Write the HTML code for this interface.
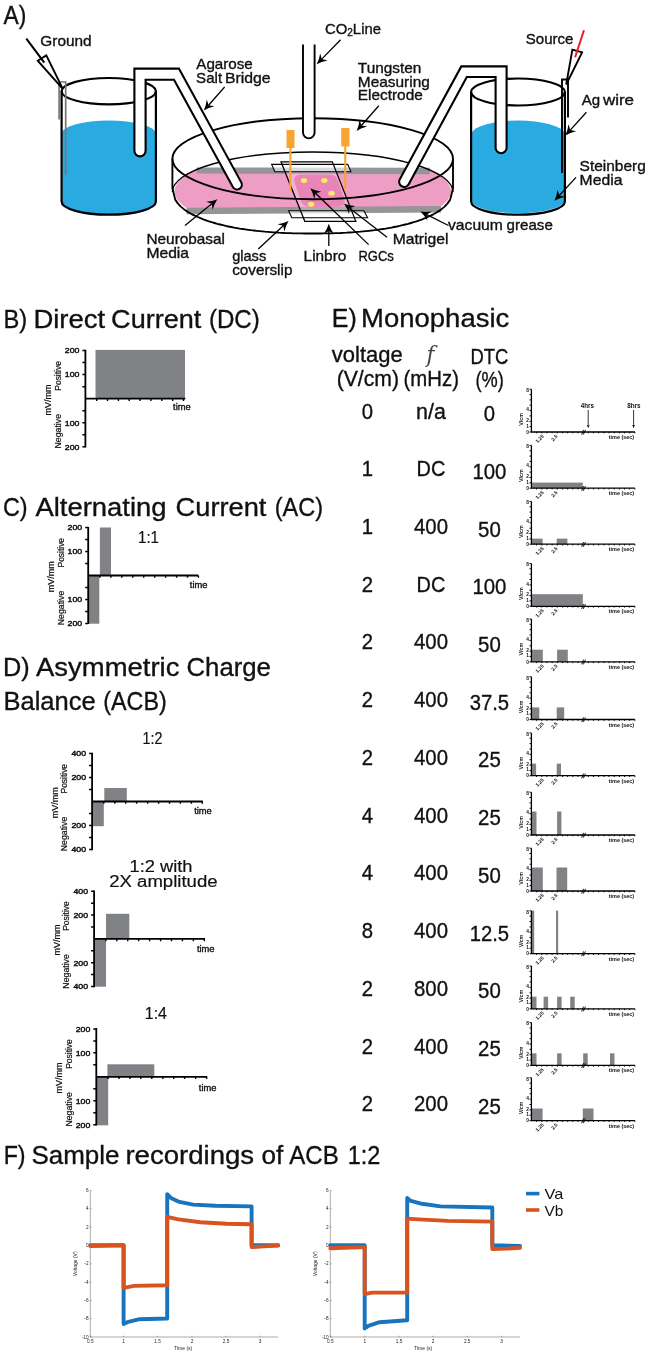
<!DOCTYPE html>
<html><head><meta charset="utf-8"><title>Figure</title>
<style>
html,body{margin:0;padding:0;background:#fff;}
body{width:649px;height:1356px;overflow:hidden;}
svg{display:block;font-family:'Liberation Sans', sans-serif;}
</style></head><body>
<svg width="649" height="1356" viewBox="0 0 649 1356">
<rect width="649" height="1356" fill="#fff"/>
<!-- Section A -->
<g id="secA">
<text x="3.5" y="23.8" font-size="26.4" textLength="22.8" lengthAdjust="spacingAndGlyphs" fill="#111" stroke="#111" stroke-width="0.35">A)</text>
<path d="M62.2,133 A46.5,12.5 0 0 1 155.3,133 L155.3,201.5 A46.5,12.6 0 0 1 62.2,201.5 Z" fill="#29ABE2"/>
<ellipse cx="108.75" cy="91.2" rx="47.15" ry="13.2" fill="none" stroke="#000" stroke-width="2.2"/>
<path d="M61.6,91.2 L61.6,201.5 A47.15,13.2 0 0 0 155.9,201.5 L155.9,91.2" fill="none" stroke="#000" stroke-width="2.2"/>
<path d="M59.1,119.6 L59.1,82 L65.7,82 L65.7,175" fill="none" stroke="#777" stroke-width="1.7"/>
<path d="M37.7,60.7 L46.3,55.4 L62.8,88.8 Z" fill="#fff" stroke="#000" stroke-width="1.9" stroke-linejoin="miter"/>
<path d="M26.3,38.6 L44.3,62.6" stroke="#000" stroke-width="2" fill="none"/>
<path d="M471.7,133.3 A46.5,14 0 0 1 564.4,133.3 L564.4,201.5 A46.5,12.6 0 0 1 471.7,201.5 Z" fill="#29ABE2"/>
<ellipse cx="518" cy="92" rx="46.9" ry="13.5" fill="none" stroke="#000" stroke-width="2.2"/>
<path d="M471.1,92 L471.1,201.5 A46.9,13.2 0 0 0 564.9,201.5 L564.9,92" fill="none" stroke="#000" stroke-width="2.2"/>
<path d="M562,172.9 L562,79.5 L568,79.5 L568,117.6" fill="none" stroke="#000" stroke-width="1.9"/>
<path d="M572.4,49.7 L582.1,52.4 L566.2,84.5 Z" fill="#fff" stroke="#000" stroke-width="1.9"/>
<path d="M584,30.2 L575.1,57.2" stroke="#ED1C24" stroke-width="2" fill="none"/>
<defs><clipPath id="pinkclip"><path d="M160,170 L470,170 L470,209 L160,212 Z"/></clipPath></defs>
<ellipse cx="312.7" cy="191.5" rx="138.3" ry="40.2" fill="#EE9EC5" clip-path="url(#pinkclip)"/>
<path d="M196.6,167.4 L429.8,167.8 L429.8,174.2 L196.6,173.6 Z" fill="#939598"/>
<path d="M186.6,207.8 L441,206 L441,212.4 L186.6,214.2 Z" fill="#939598"/>
<path d="M281,161.8 L332.3,161.8 L355.8,221.3 L304.8,221.3 Z" fill="#fff" fill-opacity="0.22"/>
<path d="M302,174.6 L329,174.6 Q336,174.6 338.2,181 L344.2,198.5 Q346.5,206.6 338,206.8 L310,207 Q303,207 300.6,200.5 L294.8,183.5 Q292,174.6 302,174.6 Z" fill="#E884B7"/>
<ellipse cx="304" cy="180.5" rx="3.2" ry="2.5" fill="#F6EB61"/>
<ellipse cx="324.3" cy="180.5" rx="3.2" ry="2.5" fill="#F6EB61"/>
<ellipse cx="331.6" cy="193.2" rx="3.2" ry="2.5" fill="#F6EB61"/>
<ellipse cx="311.1" cy="204.2" rx="3.2" ry="2.5" fill="#F6EB61"/>
<path d="M271.6,164.4 L347.7,164.4 L350.9,171.7 L274.9,171.7 Z" fill="#fff" fill-opacity="0.55" stroke="#000" stroke-width="1.1"/>
<path d="M288.6,210.8 L363.9,210.8 L367.6,217.8 L291.8,217.8 Z" fill="#fff" fill-opacity="0.55" stroke="#000" stroke-width="1.1"/>
<path d="M281,161.8 L332.3,161.8 L355.8,221.3 L304.8,221.3 Z" fill="none" stroke="#000" stroke-width="1.25"/>
<path d="M172.39999999999998,192 A140.3,40 0 0 1 453.0,192" fill="none" stroke="#000" stroke-width="1.4"/>
<path d="M172.39999999999998,158.7 L172.4,188.3 L175.2,199.6 L178.0,203.6 L180.8,206.6 L183.6,208.9 L186.4,210.9 L189.2,212.7 L192.0,214.3 L194.8,215.7 L197.7,217.0 L200.5,218.2 L203.3,219.3 L206.1,220.3 L208.9,221.3 L211.7,222.2 L214.5,223.0 L217.3,223.8 L220.1,224.5 L222.9,225.2 L225.7,225.9 L228.5,226.5 L231.3,227.0 L234.1,227.6 L236.9,228.1 L239.7,228.6 L242.5,229.0 L245.4,229.4 L248.2,229.8 L251.0,230.2 L253.8,230.5 L256.6,230.8 L259.4,231.1 L262.2,231.4 L265.0,231.7 L267.8,231.9 L270.6,232.1 L273.4,232.3 L276.2,232.5 L279.0,232.7 L281.8,232.8 L284.6,233.0 L287.4,233.1 L290.3,233.2 L293.1,233.3 L295.9,233.3 L298.7,233.4 L301.5,233.4 L304.3,233.5 L307.1,233.5 L309.9,233.5 L312.7,233.5 L315.5,233.5 L318.3,233.5 L321.1,233.5 L323.9,233.4 L326.7,233.4 L329.5,233.3 L332.3,233.3 L335.1,233.2 L338.0,233.1 L340.8,233.0 L343.6,232.8 L346.4,232.7 L349.2,232.5 L352.0,232.3 L354.8,232.1 L357.6,231.9 L360.4,231.7 L363.2,231.4 L366.0,231.1 L368.8,230.8 L371.6,230.5 L374.4,230.2 L377.2,229.8 L380.0,229.4 L382.9,229.0 L385.7,228.6 L388.5,228.1 L391.3,227.6 L394.1,227.0 L396.9,226.5 L399.7,225.9 L402.5,225.2 L405.3,224.5 L408.1,223.8 L410.9,223.0 L413.7,222.2 L416.5,221.3 L419.3,220.3 L422.1,219.3 L424.9,218.2 L427.7,217.0 L430.6,215.7 L433.4,214.3 L436.2,212.7 L439.0,210.9 L441.8,208.9 L444.6,206.6 L447.4,203.6 L450.2,199.6 L453.0,188.3 L453.0,158.7" fill="none" stroke="#000" stroke-width="1.85" stroke-linejoin="round"/>
<ellipse cx="312.7" cy="158.7" rx="140.3" ry="40.5" fill="none" stroke="#000" stroke-width="1.85"/>
<rect x="286.5" y="130" width="8" height="18" fill="#F9A533"/><rect x="289.3" y="147" width="2.1" height="43.8" fill="#F9A533"/>
<rect x="341.2" y="128" width="8.3" height="18.5" fill="#F9A533"/><rect x="344.2" y="146" width="2.1" height="43.2" fill="#F9A533"/>
<path d="M303,44.6 L303,132.6 A5.8,5.8 0 0 0 314.6,132.6 L314.6,44.6" fill="#fff" stroke="#000" stroke-width="1.9"/>
<path d="M134.4,68.6 L178.9,68.6 L241.4,182.6 A4.8,4.8 0 0 1 233,187.2 L174,79.7 L145.6,79.7 L145.6,150.8 A5.6,5.6 0 0 1 134.4,150.8 Z" fill="#fff" stroke="#000" stroke-width="2.1" stroke-linejoin="miter"/>
<path d="M506.6,66.4 L461.3,66.4 L399.7,179.4 A5.1,5.1 0 0 0 408.7,184.2 L466.8,77 L495.6,77 L495.6,147.7 A5.5,5.5 0 0 0 506.6,147.7 Z" fill="#fff" stroke="#000" stroke-width="2.1" stroke-linejoin="miter"/>
<path d="M224.6,87.0 L208.6,105.2" stroke="#000" stroke-width="1.3" fill="none"/>
<path d="M203.8,110.6 Q206.1,105.7 206.8,99.5 L208.6,105.2 L214.4,106.2 Q208.4,107.7 203.8,110.6 Z" fill="#000"/>
<path d="M340.6,39.7 L321.7,59.1" stroke="#000" stroke-width="1.3" fill="none"/>
<path d="M316.7,64.3 Q319.2,59.5 320.2,53.4 L321.7,59.1 L327.5,60.5 Q321.4,61.7 316.7,64.3 Z" fill="#000"/>
<path d="M378.8,105.7 L361.4,125.5" stroke="#000" stroke-width="1.3" fill="none"/>
<path d="M356.6,130.9 Q358.9,126.0 359.6,119.8 L361.4,125.5 L367.2,126.5 Q361.2,128.0 356.6,130.9 Z" fill="#000"/>
<path d="M185.0,225.5 L211.8,203.8" stroke="#000" stroke-width="1.3" fill="none"/>
<path d="M217.4,199.3 Q214.4,203.7 212.6,209.7 L211.8,203.8 L206.2,201.8 Q212.4,201.3 217.4,199.3 Z" fill="#000"/>
<path d="M258.3,248.9 L283.2,225.8" stroke="#000" stroke-width="1.3" fill="none"/>
<path d="M288.5,220.9 Q285.8,225.5 284.4,231.6 L283.2,225.8 L277.5,224.2 Q283.7,223.3 288.5,220.9 Z" fill="#000"/>
<path d="M328.8,246.0 L328.8,230.9" stroke="#000" stroke-width="1.3" fill="none"/>
<path d="M328.8,223.7 Q330.3,228.8 333.9,234.0 L328.8,230.9 L323.7,234.0 Q327.3,228.8 328.8,223.7 Z" fill="#000"/>
<path d="M368.6,244.6 L315.6,193.3" stroke="#000" stroke-width="1.3" fill="none"/>
<path d="M310.4,188.3 Q315.2,190.8 321.3,191.8 L315.6,193.3 L314.3,199.1 Q313.0,193.0 310.4,188.3 Z" fill="#000"/>
<path d="M387.0,237.2 L349.7,208.2" stroke="#000" stroke-width="1.3" fill="none"/>
<path d="M344.0,203.8 Q349.0,205.8 355.3,206.1 L349.7,208.2 L349.0,214.1 Q347.1,208.2 344.0,203.8 Z" fill="#000"/>
<path d="M448.5,225.5 L426.8,214.6" stroke="#000" stroke-width="1.3" fill="none"/>
<path d="M420.4,211.4 Q425.7,212.3 431.9,211.5 L426.8,214.6 L427.3,220.6 Q424.3,215.1 420.4,211.4 Z" fill="#000"/>
<path d="M586.4,112.2 L570.2,130.1" stroke="#000" stroke-width="1.3" fill="none"/>
<path d="M565.4,135.4 Q567.7,130.6 568.5,124.3 L570.2,130.1 L576.1,131.2 Q570.0,132.6 565.4,135.4 Z" fill="#000"/>
<path d="M576.0,177.4 L559.3,195.5" stroke="#000" stroke-width="1.3" fill="none"/>
<path d="M554.4,200.8 Q556.8,196.0 557.6,189.8 L559.3,195.5 L565.1,196.7 Q559.0,198.1 554.4,200.8 Z" fill="#000"/>
<text x="40.3" y="46.2" font-size="14.8" textLength="51.3" lengthAdjust="spacingAndGlyphs" fill="#111" stroke="#111" stroke-width="0.35">Ground</text>
<text x="196.3" y="68.7" font-size="14.8" textLength="56.5" lengthAdjust="spacingAndGlyphs" fill="#111" stroke="#111" stroke-width="0.35">Agarose</text>
<text x="196.1" y="82.5" font-size="14.8" textLength="26.0" lengthAdjust="spacingAndGlyphs" fill="#111" stroke="#111" stroke-width="0.35">Salt</text>
<text x="224.9" y="82.5" font-size="14.8" textLength="45.7" lengthAdjust="spacingAndGlyphs" fill="#111" stroke="#111" stroke-width="0.35">Bridge</text>
<text x="325.0" y="33.9" font-size="14.8" textLength="56.0" lengthAdjust="spacingAndGlyphs" fill="#111" stroke="#111" stroke-width="0.35">CO<tspan font-size="10" dy="2.5">2</tspan><tspan dy="-2.5">Line</tspan></text>
<text x="357.8" y="73.2" font-size="14.8" textLength="63.6" lengthAdjust="spacingAndGlyphs" fill="#111" stroke="#111" stroke-width="0.35">Tungsten</text>
<text x="357.8" y="86.7" font-size="14.8" textLength="72.0" lengthAdjust="spacingAndGlyphs" fill="#111" stroke="#111" stroke-width="0.35">Measuring</text>
<text x="357.8" y="100.2" font-size="14.8" textLength="65.0" lengthAdjust="spacingAndGlyphs" fill="#111" stroke="#111" stroke-width="0.35">Electrode</text>
<text x="146.5" y="243.5" font-size="14.8" textLength="78.5" lengthAdjust="spacingAndGlyphs" fill="#111" stroke="#111" stroke-width="0.35">Neurobasal</text>
<text x="146.5" y="257.5" font-size="14.8" textLength="42.5" lengthAdjust="spacingAndGlyphs" fill="#111" stroke="#111" stroke-width="0.35">Media</text>
<text x="232.2" y="261.2" font-size="14.8" textLength="34.0" lengthAdjust="spacingAndGlyphs" fill="#111" stroke="#111" stroke-width="0.35">glass</text>
<text x="232.2" y="275.2" font-size="14.8" textLength="60.2" lengthAdjust="spacingAndGlyphs" fill="#111" stroke="#111" stroke-width="0.35">coverslip</text>
<text x="303.6" y="260.6" font-size="14.8" textLength="42.7" lengthAdjust="spacingAndGlyphs" fill="#111" stroke="#111" stroke-width="0.35">Linbro</text>
<text x="358.4" y="260.6" font-size="14.8" textLength="35.5" lengthAdjust="spacingAndGlyphs" fill="#111" stroke="#111" stroke-width="0.35">RGCs</text>
<text x="392.7" y="244.0" font-size="14.8" textLength="55.8" lengthAdjust="spacingAndGlyphs" fill="#111" stroke="#111" stroke-width="0.35">Matrigel</text>
<text x="448.0" y="230.1" font-size="14.8" textLength="54.9" lengthAdjust="spacingAndGlyphs" fill="#111" stroke="#111" stroke-width="0.35">vacuum</text>
<text x="506.6" y="230.1" font-size="14.8" textLength="46.2" lengthAdjust="spacingAndGlyphs" fill="#111" stroke="#111" stroke-width="0.35">grease</text>
<text x="525.8" y="44.3" font-size="14.8" textLength="47.6" lengthAdjust="spacingAndGlyphs" fill="#111" stroke="#111" stroke-width="0.35">Source</text>
<text x="581.7" y="104.9" font-size="14.8" textLength="18.4" lengthAdjust="spacingAndGlyphs" fill="#111" stroke="#111" stroke-width="0.35">Ag</text>
<text x="602.9" y="104.9" font-size="14.8" textLength="31.1" lengthAdjust="spacingAndGlyphs" fill="#111" stroke="#111" stroke-width="0.35">wire</text>
<text x="579.6" y="170.8" font-size="14.8" textLength="66.2" lengthAdjust="spacingAndGlyphs" fill="#111" stroke="#111" stroke-width="0.35">Steinberg</text>
<text x="579.6" y="184.5" font-size="14.8" textLength="42.8" lengthAdjust="spacingAndGlyphs" fill="#111" stroke="#111" stroke-width="0.35">Media</text>
</g>
<!-- Sections B C D -->
<g id="secBCD">
<rect x="95.5" y="349.9" width="89.5" height="48.3" fill="#808285"/>
<path d="M85.4,349.8 L85.4,447.6 M84.5,398.7 L185.3,398.7" stroke="#000" stroke-width="1.8" fill="none"/>
<path d="M82.4,350.6 L85.4,350.6 M82.4,362.6 L85.4,362.6 M82.4,374.6 L85.4,374.6 M82.4,386.7 L85.4,386.7 M82.4,410.7 L85.4,410.7 M82.4,422.8 L85.4,422.8 M82.4,434.8 L85.4,434.8 M82.4,446.8 L85.4,446.8 " stroke="#000" stroke-width="1.5" fill="none"/>
<path d="M96.7,398.7 L96.7,401.0 M107.5,398.7 L107.5,401.0 M118.4,398.7 L118.4,401.0 M129.2,398.7 L129.2,401.0 M140.1,398.7 L140.1,401.0 M150.9,398.7 L150.9,401.0 M161.8,398.7 L161.8,401.0 M172.7,398.7 L172.7,401.0 M183.5,398.7 L183.5,401.0 " stroke="#000" stroke-width="1.4" fill="none"/>
<text x="79.4" y="353.4" font-size="7.9" text-anchor="end" textLength="14.6" lengthAdjust="spacingAndGlyphs" fill="#111" stroke="#111" stroke-width="0.45">200</text>
<text x="79.4" y="377.4" font-size="7.9" text-anchor="end" textLength="14.6" lengthAdjust="spacingAndGlyphs" fill="#111" stroke="#111" stroke-width="0.45">100</text>
<text x="79.4" y="425.6" font-size="7.9" text-anchor="end" textLength="14.6" lengthAdjust="spacingAndGlyphs" fill="#111" stroke="#111" stroke-width="0.45">100</text>
<text x="79.4" y="449.6" font-size="7.9" text-anchor="end" textLength="14.6" lengthAdjust="spacingAndGlyphs" fill="#111" stroke="#111" stroke-width="0.45">200</text>
<text transform="translate(60.7,375.9) rotate(-90)" font-size="8.2" text-anchor="middle" textLength="29.5" lengthAdjust="spacingAndGlyphs" fill="#111" stroke="#111" stroke-width="0.2">Positive</text>
<text transform="translate(60.7,431.2) rotate(-90)" font-size="8.2" text-anchor="middle" textLength="34.5" lengthAdjust="spacingAndGlyphs" fill="#111" stroke="#111" stroke-width="0.2">Negative</text>
<text transform="translate(51.0,399.9) rotate(-90)" font-size="8.2" text-anchor="middle" textLength="31.0" lengthAdjust="spacingAndGlyphs" fill="#111" stroke="#111" stroke-width="0.2">mV/mm</text>
<text x="173.1" y="409.7" font-size="8.8" textLength="17.6" lengthAdjust="spacingAndGlyphs" fill="#111" stroke="#111" stroke-width="0.35">time</text>
<rect x="88.8" y="575.5" width="10.5" height="48.2" fill="#808285"/>
<rect x="99.9" y="527.5" width="11.1" height="48.0" fill="#808285"/>
<path d="M88.2,526.9 L88.2,624.1 M87.3,575.5 L198.3,575.5" stroke="#000" stroke-width="1.8" fill="none"/>
<path d="M85.2,527.6 L88.2,527.6 M85.2,539.6 L88.2,539.6 M85.2,551.6 L88.2,551.6 M85.2,563.5 L88.2,563.5 M85.2,587.5 L88.2,587.5 M85.2,599.4 L88.2,599.4 M85.2,611.4 L88.2,611.4 M85.2,623.4 L88.2,623.4 " stroke="#000" stroke-width="1.5" fill="none"/>
<path d="M99.9,575.5 L99.9,577.8 M110.9,575.5 L110.9,577.8 M121.8,575.5 L121.8,577.8 M132.8,575.5 L132.8,577.8 M143.7,575.5 L143.7,577.8 M154.7,575.5 L154.7,577.8 M165.6,575.5 L165.6,577.8 M176.6,575.5 L176.6,577.8 M187.5,575.5 L187.5,577.8 M198.4,575.5 L198.4,577.8 " stroke="#000" stroke-width="1.4" fill="none"/>
<text x="82.2" y="530.4" font-size="7.9" text-anchor="end" textLength="14.6" lengthAdjust="spacingAndGlyphs" fill="#111" stroke="#111" stroke-width="0.45">200</text>
<text x="82.2" y="554.4" font-size="7.9" text-anchor="end" textLength="14.6" lengthAdjust="spacingAndGlyphs" fill="#111" stroke="#111" stroke-width="0.45">100</text>
<text x="82.2" y="602.2" font-size="7.9" text-anchor="end" textLength="14.6" lengthAdjust="spacingAndGlyphs" fill="#111" stroke="#111" stroke-width="0.45">100</text>
<text x="82.2" y="626.1" font-size="7.9" text-anchor="end" textLength="14.6" lengthAdjust="spacingAndGlyphs" fill="#111" stroke="#111" stroke-width="0.45">200</text>
<text transform="translate(63.5,552.7) rotate(-90)" font-size="8.2" text-anchor="middle" textLength="29.5" lengthAdjust="spacingAndGlyphs" fill="#111" stroke="#111" stroke-width="0.2">Positive</text>
<text transform="translate(63.5,608.0) rotate(-90)" font-size="8.2" text-anchor="middle" textLength="34.5" lengthAdjust="spacingAndGlyphs" fill="#111" stroke="#111" stroke-width="0.2">Negative</text>
<text transform="translate(53.8,576.7) rotate(-90)" font-size="8.2" text-anchor="middle" textLength="31.0" lengthAdjust="spacingAndGlyphs" fill="#111" stroke="#111" stroke-width="0.2">mV/mm</text>
<text x="189.8" y="588.3" font-size="8.8" textLength="17.6" lengthAdjust="spacingAndGlyphs" fill="#111" stroke="#111" stroke-width="0.35">time</text>
<rect x="92.7" y="801.5" width="11.1" height="24.7" fill="#808285"/>
<rect x="104.3" y="788.0" width="22.5" height="13.5" fill="#808285"/>
<path d="M92.1,752.7 L92.1,850.3 M91.2,801.5 L202.8,801.5" stroke="#000" stroke-width="1.8" fill="none"/>
<path d="M89.1,753.5 L92.1,753.5 M89.1,765.5 L92.1,765.5 M89.1,777.5 L92.1,777.5 M89.1,789.5 L92.1,789.5 M89.1,813.5 L92.1,813.5 M89.1,825.5 L92.1,825.5 M89.1,837.5 L92.1,837.5 M89.1,849.5 L92.1,849.5 " stroke="#000" stroke-width="1.5" fill="none"/>
<path d="M103.8,801.5 L103.8,803.8 M114.8,801.5 L114.8,803.8 M125.7,801.5 L125.7,803.8 M136.6,801.5 L136.6,803.8 M147.6,801.5 L147.6,803.8 M158.6,801.5 L158.6,803.8 M169.5,801.5 L169.5,803.8 M180.4,801.5 L180.4,803.8 M191.4,801.5 L191.4,803.8 M202.3,801.5 L202.3,803.8 " stroke="#000" stroke-width="1.4" fill="none"/>
<text x="86.1" y="756.3" font-size="7.9" text-anchor="end" textLength="14.6" lengthAdjust="spacingAndGlyphs" fill="#111" stroke="#111" stroke-width="0.45">400</text>
<text x="86.1" y="780.3" font-size="7.9" text-anchor="end" textLength="14.6" lengthAdjust="spacingAndGlyphs" fill="#111" stroke="#111" stroke-width="0.45">200</text>
<text x="86.1" y="828.3" font-size="7.9" text-anchor="end" textLength="14.6" lengthAdjust="spacingAndGlyphs" fill="#111" stroke="#111" stroke-width="0.45">200</text>
<text x="86.1" y="852.3" font-size="7.9" text-anchor="end" textLength="14.6" lengthAdjust="spacingAndGlyphs" fill="#111" stroke="#111" stroke-width="0.45">400</text>
<text transform="translate(67.4,778.7) rotate(-90)" font-size="8.2" text-anchor="middle" textLength="29.5" lengthAdjust="spacingAndGlyphs" fill="#111" stroke="#111" stroke-width="0.2">Positive</text>
<text transform="translate(67.4,834.0) rotate(-90)" font-size="8.2" text-anchor="middle" textLength="34.5" lengthAdjust="spacingAndGlyphs" fill="#111" stroke="#111" stroke-width="0.2">Negative</text>
<text transform="translate(57.7,802.7) rotate(-90)" font-size="8.2" text-anchor="middle" textLength="31.0" lengthAdjust="spacingAndGlyphs" fill="#111" stroke="#111" stroke-width="0.2">mV/mm</text>
<text x="194.2" y="814.2" font-size="8.8" textLength="17.6" lengthAdjust="spacingAndGlyphs" fill="#111" stroke="#111" stroke-width="0.35">time</text>
<rect x="94.6" y="938.9" width="11.4" height="47.8" fill="#808285"/>
<rect x="106.0" y="913.8" width="23.3" height="25.1" fill="#808285"/>
<path d="M94.1,890.5 L94.1,987.3 M93.2,938.9 L205.0,938.9" stroke="#000" stroke-width="1.8" fill="none"/>
<path d="M91.1,891.3 L94.1,891.3 M91.1,903.2 L94.1,903.2 M91.1,915.1 L94.1,915.1 M91.1,927.0 L94.1,927.0 M91.1,950.8 L94.1,950.8 M91.1,962.7 L94.1,962.7 M91.1,974.6 L94.1,974.6 M91.1,986.5 L94.1,986.5 " stroke="#000" stroke-width="1.5" fill="none"/>
<path d="M105.8,938.9 L105.8,941.2 M116.8,938.9 L116.8,941.2 M127.7,938.9 L127.7,941.2 M138.6,938.9 L138.6,941.2 M149.6,938.9 L149.6,941.2 M160.6,938.9 L160.6,941.2 M171.5,938.9 L171.5,941.2 M182.4,938.9 L182.4,941.2 M193.4,938.9 L193.4,941.2 M204.3,938.9 L204.3,941.2 " stroke="#000" stroke-width="1.4" fill="none"/>
<text x="88.1" y="894.1" font-size="7.9" text-anchor="end" textLength="14.6" lengthAdjust="spacingAndGlyphs" fill="#111" stroke="#111" stroke-width="0.45">400</text>
<text x="88.1" y="917.9" font-size="7.9" text-anchor="end" textLength="14.6" lengthAdjust="spacingAndGlyphs" fill="#111" stroke="#111" stroke-width="0.45">200</text>
<text x="88.1" y="965.5" font-size="7.9" text-anchor="end" textLength="14.6" lengthAdjust="spacingAndGlyphs" fill="#111" stroke="#111" stroke-width="0.45">200</text>
<text x="88.1" y="989.3" font-size="7.9" text-anchor="end" textLength="14.6" lengthAdjust="spacingAndGlyphs" fill="#111" stroke="#111" stroke-width="0.45">400</text>
<text transform="translate(69.4,916.1) rotate(-90)" font-size="8.2" text-anchor="middle" textLength="29.5" lengthAdjust="spacingAndGlyphs" fill="#111" stroke="#111" stroke-width="0.2">Positive</text>
<text transform="translate(69.4,971.4) rotate(-90)" font-size="8.2" text-anchor="middle" textLength="34.5" lengthAdjust="spacingAndGlyphs" fill="#111" stroke="#111" stroke-width="0.2">Negative</text>
<text transform="translate(59.7,940.1) rotate(-90)" font-size="8.2" text-anchor="middle" textLength="31.0" lengthAdjust="spacingAndGlyphs" fill="#111" stroke="#111" stroke-width="0.2">mV/mm</text>
<text x="196.9" y="951.6" font-size="8.8" textLength="17.6" lengthAdjust="spacingAndGlyphs" fill="#111" stroke="#111" stroke-width="0.35">time</text>
<rect x="96.8" y="1076.8" width="11.4" height="48.5" fill="#808285"/>
<rect x="107.4" y="1064.3" width="46.9" height="12.5" fill="#808285"/>
<path d="M96.3,1028.1 L96.3,1125.5 M95.4,1076.8 L207.2,1076.8" stroke="#000" stroke-width="1.8" fill="none"/>
<path d="M93.3,1028.9 L96.3,1028.9 M93.3,1040.9 L96.3,1040.9 M93.3,1052.8 L96.3,1052.8 M93.3,1064.8 L96.3,1064.8 M93.3,1088.8 L96.3,1088.8 M93.3,1100.7 L96.3,1100.7 M93.3,1112.7 L96.3,1112.7 M93.3,1124.7 L96.3,1124.7 " stroke="#000" stroke-width="1.5" fill="none"/>
<path d="M108.0,1076.8 L108.0,1079.1 M119.0,1076.8 L119.0,1079.1 M129.9,1076.8 L129.9,1079.1 M140.8,1076.8 L140.8,1079.1 M151.8,1076.8 L151.8,1079.1 M162.8,1076.8 L162.8,1079.1 M173.7,1076.8 L173.7,1079.1 M184.6,1076.8 L184.6,1079.1 M195.6,1076.8 L195.6,1079.1 M206.6,1076.8 L206.6,1079.1 " stroke="#000" stroke-width="1.4" fill="none"/>
<text x="90.3" y="1031.7" font-size="7.9" text-anchor="end" textLength="14.6" lengthAdjust="spacingAndGlyphs" fill="#111" stroke="#111" stroke-width="0.45">200</text>
<text x="90.3" y="1055.6" font-size="7.9" text-anchor="end" textLength="14.6" lengthAdjust="spacingAndGlyphs" fill="#111" stroke="#111" stroke-width="0.45">100</text>
<text x="90.3" y="1103.5" font-size="7.9" text-anchor="end" textLength="14.6" lengthAdjust="spacingAndGlyphs" fill="#111" stroke="#111" stroke-width="0.45">100</text>
<text x="90.3" y="1127.5" font-size="7.9" text-anchor="end" textLength="14.6" lengthAdjust="spacingAndGlyphs" fill="#111" stroke="#111" stroke-width="0.45">200</text>
<text transform="translate(71.6,1054.0) rotate(-90)" font-size="8.2" text-anchor="middle" textLength="29.5" lengthAdjust="spacingAndGlyphs" fill="#111" stroke="#111" stroke-width="0.2">Positive</text>
<text transform="translate(71.6,1109.3) rotate(-90)" font-size="8.2" text-anchor="middle" textLength="34.5" lengthAdjust="spacingAndGlyphs" fill="#111" stroke="#111" stroke-width="0.2">Negative</text>
<text transform="translate(61.9,1078.0) rotate(-90)" font-size="8.2" text-anchor="middle" textLength="31.0" lengthAdjust="spacingAndGlyphs" fill="#111" stroke="#111" stroke-width="0.2">mV/mm</text>
<text x="198.8" y="1090.5" font-size="8.8" textLength="17.6" lengthAdjust="spacingAndGlyphs" fill="#111" stroke="#111" stroke-width="0.35">time</text>
<text x="3.4" y="327.6" font-size="26.4" textLength="23.7" lengthAdjust="spacingAndGlyphs" fill="#111" stroke="#111" stroke-width="0.35">B)</text>
<text x="33.4" y="327.6" font-size="26.4" textLength="71.8" lengthAdjust="spacingAndGlyphs" fill="#111" stroke="#111" stroke-width="0.35">Direct</text>
<text x="111.1" y="327.6" font-size="26.4" textLength="90.2" lengthAdjust="spacingAndGlyphs" fill="#111" stroke="#111" stroke-width="0.35">Current</text>
<text x="208.9" y="327.6" font-size="26.4" textLength="50.9" lengthAdjust="spacingAndGlyphs" fill="#111" stroke="#111" stroke-width="0.35">(DC)</text>
<text x="2.9" y="516.3" font-size="26.4" textLength="24.7" lengthAdjust="spacingAndGlyphs" fill="#111" stroke="#111" stroke-width="0.35">C)</text>
<text x="35.5" y="516.3" font-size="26.4" textLength="131.0" lengthAdjust="spacingAndGlyphs" fill="#111" stroke="#111" stroke-width="0.35">Alternating</text>
<text x="175.6" y="516.3" font-size="26.4" textLength="90.8" lengthAdjust="spacingAndGlyphs" fill="#111" stroke="#111" stroke-width="0.35">Current</text>
<text x="274.8" y="516.3" font-size="26.4" textLength="48.3" lengthAdjust="spacingAndGlyphs" fill="#111" stroke="#111" stroke-width="0.35">(AC)</text>
<text x="2.9" y="676.0" font-size="26.4" textLength="26.7" lengthAdjust="spacingAndGlyphs" fill="#111" stroke="#111" stroke-width="0.35">D)</text>
<text x="36.0" y="676.0" font-size="26.4" textLength="143.4" lengthAdjust="spacingAndGlyphs" fill="#111" stroke="#111" stroke-width="0.35">Asymmetric</text>
<text x="186.5" y="676.0" font-size="26.4" textLength="84.4" lengthAdjust="spacingAndGlyphs" fill="#111" stroke="#111" stroke-width="0.35">Charge</text>
<text x="3.4" y="710.1" font-size="26.4" textLength="92.3" lengthAdjust="spacingAndGlyphs" fill="#111" stroke="#111" stroke-width="0.35">Balance</text>
<text x="103.3" y="710.1" font-size="26.4" textLength="63.4" lengthAdjust="spacingAndGlyphs" fill="#111" stroke="#111" stroke-width="0.35">(ACB)</text>
<text x="3.7" y="1164.0" font-size="26.4" textLength="21.9" lengthAdjust="spacingAndGlyphs" fill="#111" stroke="#111" stroke-width="0.35">F)</text>
<text x="31.5" y="1164.0" font-size="26.4" textLength="88.0" lengthAdjust="spacingAndGlyphs" fill="#111" stroke="#111" stroke-width="0.35">Sample</text>
<text x="125.4" y="1164.0" font-size="26.4" textLength="128.7" lengthAdjust="spacingAndGlyphs" fill="#111" stroke="#111" stroke-width="0.35">recordings</text>
<text x="261.5" y="1164.0" font-size="26.4" textLength="21.8" lengthAdjust="spacingAndGlyphs" fill="#111" stroke="#111" stroke-width="0.35">of</text>
<text x="289.3" y="1164.0" font-size="26.4" textLength="49.5" lengthAdjust="spacingAndGlyphs" fill="#111" stroke="#111" stroke-width="0.35">ACB</text>
<text x="347.8" y="1164.0" font-size="26.4" textLength="32.6" lengthAdjust="spacingAndGlyphs" fill="#111" stroke="#111" stroke-width="0.35">1:2</text>
<text x="138.0" y="543.3" font-size="17.3" textLength="21.0" lengthAdjust="spacingAndGlyphs" fill="#111" stroke="#111" stroke-width="0.2">1:1</text>
<text x="142.6" y="743.6" font-size="17.3" textLength="19.8" lengthAdjust="spacingAndGlyphs" fill="#111" stroke="#111" stroke-width="0.2">1:2</text>
<text x="129.5" y="872.2" font-size="17.3" textLength="63.0" lengthAdjust="spacingAndGlyphs" fill="#111" stroke="#111" stroke-width="0.2">1:2 with</text>
<text x="109.2" y="887.4" font-size="17.3" textLength="108.4" lengthAdjust="spacingAndGlyphs" fill="#111" stroke="#111" stroke-width="0.2">2X amplitude</text>
<text x="144.8" y="1018.6" font-size="17.3" textLength="22.2" lengthAdjust="spacingAndGlyphs" fill="#111" stroke="#111" stroke-width="0.2">1:4</text>
</g>
<!-- Section E -->
<g id="secE">
<text x="331.8" y="327.4" font-size="26.4" textLength="24.9" lengthAdjust="spacingAndGlyphs" fill="#111" stroke="#111" stroke-width="0.35">E)</text>
<text x="361.1" y="327.4" font-size="26.4" textLength="148.2" lengthAdjust="spacingAndGlyphs" fill="#111" stroke="#111" stroke-width="0.35">Monophasic</text>
<text x="331.8" y="362.2" font-size="21.8" textLength="70.9" lengthAdjust="spacingAndGlyphs" fill="#111" stroke="#111" stroke-width="0.35">voltage</text>
<text x="336.7" y="385.9" font-size="21.8" textLength="62.3" lengthAdjust="spacingAndGlyphs" fill="#111" stroke="#111" stroke-width="0.35">(V/cm)</text>
<text x="426.5" y="361.8" style="font-family:'DejaVu Serif','Liberation Serif',serif;font-style:italic;font-size:21.5px" fill="#444">f</text>
<text x="403.6" y="385.9" font-size="21.8" textLength="55.4" lengthAdjust="spacingAndGlyphs" fill="#111" stroke="#111" stroke-width="0.35">(mHz)</text>
<text x="470.5" y="364.3" font-size="21.8" textLength="37.9" lengthAdjust="spacingAndGlyphs" fill="#111" stroke="#111" stroke-width="0.35">DTC</text>
<text x="475.4" y="387.4" font-size="21.8" textLength="28.3" lengthAdjust="spacingAndGlyphs" fill="#111" stroke="#111" stroke-width="0.35">(%)</text>
<text x="367.4" y="418.5" font-size="22" text-anchor="middle" textLength="11.3" lengthAdjust="spacingAndGlyphs" fill="#111" stroke="#111" stroke-width="0.35">0</text>
<text x="431.0" y="418.5" font-size="22" text-anchor="middle" textLength="29.8" lengthAdjust="spacingAndGlyphs" fill="#111" stroke="#111" stroke-width="0.35">n/a</text>
<text x="489.4" y="421.0" font-size="22" text-anchor="middle" textLength="11.3" lengthAdjust="spacingAndGlyphs" fill="#111" stroke="#111" stroke-width="0.35">0</text>
<text x="367.4" y="476.2" font-size="22" text-anchor="middle" textLength="11.3" lengthAdjust="spacingAndGlyphs" fill="#111" stroke="#111" stroke-width="0.35">1</text>
<text x="431.0" y="476.2" font-size="22" text-anchor="middle" textLength="28.8" lengthAdjust="spacingAndGlyphs" fill="#111" stroke="#111" stroke-width="0.35">DC</text>
<text x="489.4" y="478.7" font-size="22" text-anchor="middle" textLength="34.0" lengthAdjust="spacingAndGlyphs" fill="#111" stroke="#111" stroke-width="0.35">100</text>
<text x="367.4" y="534.0" font-size="22" text-anchor="middle" textLength="11.3" lengthAdjust="spacingAndGlyphs" fill="#111" stroke="#111" stroke-width="0.35">1</text>
<text x="431.0" y="534.0" font-size="22" text-anchor="middle" textLength="34.0" lengthAdjust="spacingAndGlyphs" fill="#111" stroke="#111" stroke-width="0.35">400</text>
<text x="489.4" y="536.5" font-size="22" text-anchor="middle" textLength="22.7" lengthAdjust="spacingAndGlyphs" fill="#111" stroke="#111" stroke-width="0.35">50</text>
<text x="367.4" y="591.7" font-size="22" text-anchor="middle" textLength="11.3" lengthAdjust="spacingAndGlyphs" fill="#111" stroke="#111" stroke-width="0.35">2</text>
<text x="431.0" y="591.7" font-size="22" text-anchor="middle" textLength="28.8" lengthAdjust="spacingAndGlyphs" fill="#111" stroke="#111" stroke-width="0.35">DC</text>
<text x="489.4" y="594.2" font-size="22" text-anchor="middle" textLength="34.0" lengthAdjust="spacingAndGlyphs" fill="#111" stroke="#111" stroke-width="0.35">100</text>
<text x="367.4" y="649.4" font-size="22" text-anchor="middle" textLength="11.3" lengthAdjust="spacingAndGlyphs" fill="#111" stroke="#111" stroke-width="0.35">2</text>
<text x="431.0" y="649.4" font-size="22" text-anchor="middle" textLength="34.0" lengthAdjust="spacingAndGlyphs" fill="#111" stroke="#111" stroke-width="0.35">400</text>
<text x="489.4" y="651.9" font-size="22" text-anchor="middle" textLength="22.7" lengthAdjust="spacingAndGlyphs" fill="#111" stroke="#111" stroke-width="0.35">50</text>
<text x="367.4" y="707.1" font-size="22" text-anchor="middle" textLength="11.3" lengthAdjust="spacingAndGlyphs" fill="#111" stroke="#111" stroke-width="0.35">2</text>
<text x="431.0" y="707.1" font-size="22" text-anchor="middle" textLength="34.0" lengthAdjust="spacingAndGlyphs" fill="#111" stroke="#111" stroke-width="0.35">400</text>
<text x="489.4" y="709.6" font-size="22" text-anchor="middle" textLength="39.4" lengthAdjust="spacingAndGlyphs" fill="#111" stroke="#111" stroke-width="0.35">37.5</text>
<text x="367.4" y="764.9" font-size="22" text-anchor="middle" textLength="11.3" lengthAdjust="spacingAndGlyphs" fill="#111" stroke="#111" stroke-width="0.35">2</text>
<text x="431.0" y="764.9" font-size="22" text-anchor="middle" textLength="34.0" lengthAdjust="spacingAndGlyphs" fill="#111" stroke="#111" stroke-width="0.35">400</text>
<text x="489.4" y="767.4" font-size="22" text-anchor="middle" textLength="22.7" lengthAdjust="spacingAndGlyphs" fill="#111" stroke="#111" stroke-width="0.35">25</text>
<text x="367.4" y="822.6" font-size="22" text-anchor="middle" textLength="11.3" lengthAdjust="spacingAndGlyphs" fill="#111" stroke="#111" stroke-width="0.35">4</text>
<text x="431.0" y="822.6" font-size="22" text-anchor="middle" textLength="34.0" lengthAdjust="spacingAndGlyphs" fill="#111" stroke="#111" stroke-width="0.35">400</text>
<text x="489.4" y="825.1" font-size="22" text-anchor="middle" textLength="22.7" lengthAdjust="spacingAndGlyphs" fill="#111" stroke="#111" stroke-width="0.35">25</text>
<text x="367.4" y="880.3" font-size="22" text-anchor="middle" textLength="11.3" lengthAdjust="spacingAndGlyphs" fill="#111" stroke="#111" stroke-width="0.35">4</text>
<text x="431.0" y="880.3" font-size="22" text-anchor="middle" textLength="34.0" lengthAdjust="spacingAndGlyphs" fill="#111" stroke="#111" stroke-width="0.35">400</text>
<text x="489.4" y="882.8" font-size="22" text-anchor="middle" textLength="22.7" lengthAdjust="spacingAndGlyphs" fill="#111" stroke="#111" stroke-width="0.35">50</text>
<text x="367.4" y="938.1" font-size="22" text-anchor="middle" textLength="11.3" lengthAdjust="spacingAndGlyphs" fill="#111" stroke="#111" stroke-width="0.35">8</text>
<text x="431.0" y="938.1" font-size="22" text-anchor="middle" textLength="34.0" lengthAdjust="spacingAndGlyphs" fill="#111" stroke="#111" stroke-width="0.35">400</text>
<text x="489.4" y="940.6" font-size="22" text-anchor="middle" textLength="39.4" lengthAdjust="spacingAndGlyphs" fill="#111" stroke="#111" stroke-width="0.35">12.5</text>
<text x="367.4" y="995.8" font-size="22" text-anchor="middle" textLength="11.3" lengthAdjust="spacingAndGlyphs" fill="#111" stroke="#111" stroke-width="0.35">2</text>
<text x="431.0" y="995.8" font-size="22" text-anchor="middle" textLength="34.0" lengthAdjust="spacingAndGlyphs" fill="#111" stroke="#111" stroke-width="0.35">800</text>
<text x="489.4" y="998.3" font-size="22" text-anchor="middle" textLength="22.7" lengthAdjust="spacingAndGlyphs" fill="#111" stroke="#111" stroke-width="0.35">50</text>
<text x="367.4" y="1053.5" font-size="22" text-anchor="middle" textLength="11.3" lengthAdjust="spacingAndGlyphs" fill="#111" stroke="#111" stroke-width="0.35">2</text>
<text x="431.0" y="1053.5" font-size="22" text-anchor="middle" textLength="34.0" lengthAdjust="spacingAndGlyphs" fill="#111" stroke="#111" stroke-width="0.35">400</text>
<text x="489.4" y="1056.0" font-size="22" text-anchor="middle" textLength="22.7" lengthAdjust="spacingAndGlyphs" fill="#111" stroke="#111" stroke-width="0.35">25</text>
<text x="367.4" y="1111.3" font-size="22" text-anchor="middle" textLength="11.3" lengthAdjust="spacingAndGlyphs" fill="#111" stroke="#111" stroke-width="0.35">2</text>
<text x="431.0" y="1111.3" font-size="22" text-anchor="middle" textLength="34.0" lengthAdjust="spacingAndGlyphs" fill="#111" stroke="#111" stroke-width="0.35">200</text>
<text x="489.4" y="1113.8" font-size="22" text-anchor="middle" textLength="22.7" lengthAdjust="spacingAndGlyphs" fill="#111" stroke="#111" stroke-width="0.35">25</text>
<path d="M531.4,389.2 L531.4,432.0 L634.9,432.0" stroke="#000" stroke-width="1.3" fill="none" stroke-linejoin="miter"/>
<path d="M529.5,432.0 L531.4,432.0 M529.5,426.6 L531.4,426.6 M529.5,421.3 L531.4,421.3 M529.5,415.9 L531.4,415.9 M529.5,410.6 L531.4,410.6 M529.5,405.2 L531.4,405.2 M529.5,399.9 L531.4,399.9 M529.5,394.6 L531.4,394.6 M529.5,389.2 L531.4,389.2 M536.6,432.0 L536.6,433.3 M541.8,432.0 L541.8,433.3 M546.9,432.0 L546.9,433.3 M552.1,432.0 L552.1,433.3 M557.3,432.0 L557.3,433.3 M562.4,432.0 L562.4,433.3 M567.6,432.0 L567.6,433.3 M572.8,432.0 L572.8,433.3 M578.0,432.0 L578.0,433.3 M583.1,432.0 L583.1,433.3 M588.3,432.0 L588.3,433.3 M593.5,432.0 L593.5,433.3 M598.7,432.0 L598.7,433.3 M603.9,432.0 L603.9,433.3 M609.0,432.0 L609.0,433.3 M614.2,432.0 L614.2,433.3 M619.4,432.0 L619.4,433.3 M624.5,432.0 L624.5,433.3 M629.7,432.0 L629.7,433.3 M634.9,432.0 L634.9,433.3 " stroke="#000" stroke-width="0.95" fill="none"/>
<text x="528.8" y="392.0" font-size="4.8" text-anchor="end" font-weight="bold" fill="#111">8</text>
<text x="528.8" y="411.2" font-size="4.8" text-anchor="end" font-weight="bold" fill="#111">4</text>
<text x="528.8" y="422.1" font-size="4.8" text-anchor="end" font-weight="bold" fill="#111">2</text>
<text x="528.8" y="427.6" font-size="4.8" text-anchor="end" font-weight="bold" fill="#111">1</text>
<text x="528.8" y="433.7" font-size="4.8" text-anchor="end" font-weight="bold" fill="#111">0</text>
<text transform="translate(522.6,419.4) rotate(-90)" font-size="4.6" font-weight="bold" text-anchor="middle" textLength="12.6" lengthAdjust="spacingAndGlyphs" fill="#111">V/cm</text>
<text transform="translate(544.2,436.6) rotate(-45)" font-size="4.9" font-weight="bold" text-anchor="end" fill="#111">1.25</text>
<text transform="translate(558,436.6) rotate(-45)" font-size="4.9" font-weight="bold" text-anchor="end" fill="#111">2.5</text>
<path d="M581.6,434.6 L583.6,429.8 M583.4,434.6 L585.4,429.8" stroke="#000" stroke-width="0.9" fill="none"/>
<text x="608.7" y="439.0" font-size="5.3" textLength="25.5" lengthAdjust="spacingAndGlyphs" font-weight="bold" fill="#111">time (sec)</text>
<text x="580.8" y="407.8" font-size="6.8" textLength="13.2" lengthAdjust="spacingAndGlyphs" font-weight="bold" fill="#111">4hrs</text>
<text x="627.2" y="407.8" font-size="6.8" textLength="13.4" lengthAdjust="spacingAndGlyphs" font-weight="bold" fill="#111">8hrs</text>
<path d="M588.2,410.0 L588.2,425.6" stroke="#000" stroke-width="0.8" fill="none"/>
<path d="M588.2,428.2 Q587.7,426.6 586.6,425.0 L588.2,425.6 L589.8,425.0 Q588.7,426.6 588.2,428.2 Z" fill="#000"/>
<path d="M633.6,410.0 L633.6,425.6" stroke="#000" stroke-width="0.8" fill="none"/>
<path d="M633.6,428.2 Q633.1,426.6 632.0,425.0 L633.6,425.6 L635.2,425.0 Q634.1,426.6 633.6,428.2 Z" fill="#000"/>
<rect x="531.9" y="482.6" width="50.9" height="5.6" fill="#808285"/>
<path d="M531.4,445.4 L531.4,488.2 L634.9,488.2" stroke="#000" stroke-width="1.3" fill="none" stroke-linejoin="miter"/>
<path d="M529.5,488.2 L531.4,488.2 M529.5,482.8 L531.4,482.8 M529.5,477.5 L531.4,477.5 M529.5,472.1 L531.4,472.1 M529.5,466.8 L531.4,466.8 M529.5,461.4 L531.4,461.4 M529.5,456.1 L531.4,456.1 M529.5,450.8 L531.4,450.8 M529.5,445.4 L531.4,445.4 M536.6,488.2 L536.6,489.5 M541.8,488.2 L541.8,489.5 M546.9,488.2 L546.9,489.5 M552.1,488.2 L552.1,489.5 M557.3,488.2 L557.3,489.5 M562.4,488.2 L562.4,489.5 M567.6,488.2 L567.6,489.5 M572.8,488.2 L572.8,489.5 M578.0,488.2 L578.0,489.5 M583.1,488.2 L583.1,489.5 M588.3,488.2 L588.3,489.5 M593.5,488.2 L593.5,489.5 M598.7,488.2 L598.7,489.5 M603.9,488.2 L603.9,489.5 M609.0,488.2 L609.0,489.5 M614.2,488.2 L614.2,489.5 M619.4,488.2 L619.4,489.5 M624.5,488.2 L624.5,489.5 M629.7,488.2 L629.7,489.5 M634.9,488.2 L634.9,489.5 " stroke="#000" stroke-width="0.95" fill="none"/>
<text x="528.8" y="448.2" font-size="4.8" text-anchor="end" font-weight="bold" fill="#111">8</text>
<text x="528.8" y="467.4" font-size="4.8" text-anchor="end" font-weight="bold" fill="#111">4</text>
<text x="528.8" y="478.3" font-size="4.8" text-anchor="end" font-weight="bold" fill="#111">2</text>
<text x="528.8" y="483.8" font-size="4.8" text-anchor="end" font-weight="bold" fill="#111">1</text>
<text x="528.8" y="489.9" font-size="4.8" text-anchor="end" font-weight="bold" fill="#111">0</text>
<text transform="translate(522.6,475.6) rotate(-90)" font-size="4.6" font-weight="bold" text-anchor="middle" textLength="12.6" lengthAdjust="spacingAndGlyphs" fill="#111">V/cm</text>
<text transform="translate(544.2,492.8) rotate(-45)" font-size="4.9" font-weight="bold" text-anchor="end" fill="#111">1.25</text>
<text transform="translate(558,492.8) rotate(-45)" font-size="4.9" font-weight="bold" text-anchor="end" fill="#111">2.5</text>
<path d="M581.6,490.8 L583.6,486.0 M583.4,490.8 L585.4,486.0" stroke="#000" stroke-width="0.9" fill="none"/>
<text x="608.7" y="495.2" font-size="5.3" textLength="25.5" lengthAdjust="spacingAndGlyphs" font-weight="bold" fill="#111">time (sec)</text>
<rect x="531.9" y="538.6" width="10.7" height="5.6" fill="#808285"/>
<rect x="556.7" y="538.6" width="10.7" height="5.6" fill="#808285"/>
<path d="M531.4,501.4 L531.4,544.2 L634.9,544.2" stroke="#000" stroke-width="1.3" fill="none" stroke-linejoin="miter"/>
<path d="M529.5,544.2 L531.4,544.2 M529.5,538.9 L531.4,538.9 M529.5,533.5 L531.4,533.5 M529.5,528.2 L531.4,528.2 M529.5,522.8 L531.4,522.8 M529.5,517.5 L531.4,517.5 M529.5,512.1 L531.4,512.1 M529.5,506.8 L531.4,506.8 M529.5,501.4 L531.4,501.4 M536.6,544.2 L536.6,545.5 M541.8,544.2 L541.8,545.5 M546.9,544.2 L546.9,545.5 M552.1,544.2 L552.1,545.5 M557.3,544.2 L557.3,545.5 M562.4,544.2 L562.4,545.5 M567.6,544.2 L567.6,545.5 M572.8,544.2 L572.8,545.5 M578.0,544.2 L578.0,545.5 M583.1,544.2 L583.1,545.5 M588.3,544.2 L588.3,545.5 M593.5,544.2 L593.5,545.5 M598.7,544.2 L598.7,545.5 M603.9,544.2 L603.9,545.5 M609.0,544.2 L609.0,545.5 M614.2,544.2 L614.2,545.5 M619.4,544.2 L619.4,545.5 M624.5,544.2 L624.5,545.5 M629.7,544.2 L629.7,545.5 M634.9,544.2 L634.9,545.5 " stroke="#000" stroke-width="0.95" fill="none"/>
<text x="528.8" y="504.2" font-size="4.8" text-anchor="end" font-weight="bold" fill="#111">8</text>
<text x="528.8" y="523.4" font-size="4.8" text-anchor="end" font-weight="bold" fill="#111">4</text>
<text x="528.8" y="534.3" font-size="4.8" text-anchor="end" font-weight="bold" fill="#111">2</text>
<text x="528.8" y="539.8" font-size="4.8" text-anchor="end" font-weight="bold" fill="#111">1</text>
<text x="528.8" y="545.9" font-size="4.8" text-anchor="end" font-weight="bold" fill="#111">0</text>
<text transform="translate(522.6,531.6) rotate(-90)" font-size="4.6" font-weight="bold" text-anchor="middle" textLength="12.6" lengthAdjust="spacingAndGlyphs" fill="#111">V/cm</text>
<text transform="translate(544.2,548.8) rotate(-45)" font-size="4.9" font-weight="bold" text-anchor="end" fill="#111">1.25</text>
<text transform="translate(558,548.8) rotate(-45)" font-size="4.9" font-weight="bold" text-anchor="end" fill="#111">2.5</text>
<path d="M581.6,546.8 L583.6,542.0 M583.4,546.8 L585.4,542.0" stroke="#000" stroke-width="0.9" fill="none"/>
<text x="608.7" y="551.2" font-size="5.3" textLength="25.5" lengthAdjust="spacingAndGlyphs" font-weight="bold" fill="#111">time (sec)</text>
<rect x="531.9" y="594.2" width="50.9" height="12.1" fill="#808285"/>
<path d="M531.4,563.5 L531.4,606.3 L634.9,606.3" stroke="#000" stroke-width="1.3" fill="none" stroke-linejoin="miter"/>
<path d="M529.5,606.3 L531.4,606.3 M529.5,600.9 L531.4,600.9 M529.5,595.6 L531.4,595.6 M529.5,590.2 L531.4,590.2 M529.5,584.9 L531.4,584.9 M529.5,579.5 L531.4,579.5 M529.5,574.2 L531.4,574.2 M529.5,568.8 L531.4,568.8 M529.5,563.5 L531.4,563.5 M536.6,606.3 L536.6,607.6 M541.8,606.3 L541.8,607.6 M546.9,606.3 L546.9,607.6 M552.1,606.3 L552.1,607.6 M557.3,606.3 L557.3,607.6 M562.4,606.3 L562.4,607.6 M567.6,606.3 L567.6,607.6 M572.8,606.3 L572.8,607.6 M578.0,606.3 L578.0,607.6 M583.1,606.3 L583.1,607.6 M588.3,606.3 L588.3,607.6 M593.5,606.3 L593.5,607.6 M598.7,606.3 L598.7,607.6 M603.9,606.3 L603.9,607.6 M609.0,606.3 L609.0,607.6 M614.2,606.3 L614.2,607.6 M619.4,606.3 L619.4,607.6 M624.5,606.3 L624.5,607.6 M629.7,606.3 L629.7,607.6 M634.9,606.3 L634.9,607.6 " stroke="#000" stroke-width="0.95" fill="none"/>
<text x="528.8" y="566.3" font-size="4.8" text-anchor="end" font-weight="bold" fill="#111">8</text>
<text x="528.8" y="585.5" font-size="4.8" text-anchor="end" font-weight="bold" fill="#111">4</text>
<text x="528.8" y="596.4" font-size="4.8" text-anchor="end" font-weight="bold" fill="#111">2</text>
<text x="528.8" y="601.9" font-size="4.8" text-anchor="end" font-weight="bold" fill="#111">1</text>
<text x="528.8" y="608.0" font-size="4.8" text-anchor="end" font-weight="bold" fill="#111">0</text>
<text transform="translate(522.6,593.7) rotate(-90)" font-size="4.6" font-weight="bold" text-anchor="middle" textLength="12.6" lengthAdjust="spacingAndGlyphs" fill="#111">V/cm</text>
<text transform="translate(544.2,610.9) rotate(-45)" font-size="4.9" font-weight="bold" text-anchor="end" fill="#111">1.25</text>
<text transform="translate(558,610.9) rotate(-45)" font-size="4.9" font-weight="bold" text-anchor="end" fill="#111">2.5</text>
<path d="M581.6,608.9 L583.6,604.1 M583.4,608.9 L585.4,604.1" stroke="#000" stroke-width="0.9" fill="none"/>
<text x="608.7" y="613.3" font-size="5.3" textLength="25.5" lengthAdjust="spacingAndGlyphs" font-weight="bold" fill="#111">time (sec)</text>
<rect x="531.9" y="649.7" width="10.9" height="12.1" fill="#808285"/>
<rect x="557.1" y="649.7" width="10.7" height="12.1" fill="#808285"/>
<path d="M531.4,619.0 L531.4,661.8 L634.9,661.8" stroke="#000" stroke-width="1.3" fill="none" stroke-linejoin="miter"/>
<path d="M529.5,661.8 L531.4,661.8 M529.5,656.4 L531.4,656.4 M529.5,651.1 L531.4,651.1 M529.5,645.8 L531.4,645.8 M529.5,640.4 L531.4,640.4 M529.5,635.0 L531.4,635.0 M529.5,629.7 L531.4,629.7 M529.5,624.3 L531.4,624.3 M529.5,619.0 L531.4,619.0 M536.6,661.8 L536.6,663.1 M541.8,661.8 L541.8,663.1 M546.9,661.8 L546.9,663.1 M552.1,661.8 L552.1,663.1 M557.3,661.8 L557.3,663.1 M562.4,661.8 L562.4,663.1 M567.6,661.8 L567.6,663.1 M572.8,661.8 L572.8,663.1 M578.0,661.8 L578.0,663.1 M583.1,661.8 L583.1,663.1 M588.3,661.8 L588.3,663.1 M593.5,661.8 L593.5,663.1 M598.7,661.8 L598.7,663.1 M603.9,661.8 L603.9,663.1 M609.0,661.8 L609.0,663.1 M614.2,661.8 L614.2,663.1 M619.4,661.8 L619.4,663.1 M624.5,661.8 L624.5,663.1 M629.7,661.8 L629.7,663.1 M634.9,661.8 L634.9,663.1 " stroke="#000" stroke-width="0.95" fill="none"/>
<text x="528.8" y="621.8" font-size="4.8" text-anchor="end" font-weight="bold" fill="#111">8</text>
<text x="528.8" y="641.0" font-size="4.8" text-anchor="end" font-weight="bold" fill="#111">4</text>
<text x="528.8" y="651.9" font-size="4.8" text-anchor="end" font-weight="bold" fill="#111">2</text>
<text x="528.8" y="657.4" font-size="4.8" text-anchor="end" font-weight="bold" fill="#111">1</text>
<text x="528.8" y="663.5" font-size="4.8" text-anchor="end" font-weight="bold" fill="#111">0</text>
<text transform="translate(522.6,649.2) rotate(-90)" font-size="4.6" font-weight="bold" text-anchor="middle" textLength="12.6" lengthAdjust="spacingAndGlyphs" fill="#111">V/cm</text>
<text transform="translate(544.2,666.4) rotate(-45)" font-size="4.9" font-weight="bold" text-anchor="end" fill="#111">1.25</text>
<text transform="translate(558,666.4) rotate(-45)" font-size="4.9" font-weight="bold" text-anchor="end" fill="#111">2.5</text>
<path d="M581.6,664.4 L583.6,659.6 M583.4,664.4 L585.4,659.6" stroke="#000" stroke-width="0.9" fill="none"/>
<text x="608.7" y="668.8" font-size="5.3" textLength="25.5" lengthAdjust="spacingAndGlyphs" font-weight="bold" fill="#111">time (sec)</text>
<rect x="531.9" y="707.4" width="7.4" height="12.1" fill="#808285"/>
<rect x="556.7" y="707.4" width="7.5" height="12.1" fill="#808285"/>
<path d="M531.4,676.7 L531.4,719.5 L634.9,719.5" stroke="#000" stroke-width="1.3" fill="none" stroke-linejoin="miter"/>
<path d="M529.5,719.5 L531.4,719.5 M529.5,714.1 L531.4,714.1 M529.5,708.8 L531.4,708.8 M529.5,703.5 L531.4,703.5 M529.5,698.1 L531.4,698.1 M529.5,692.8 L531.4,692.8 M529.5,687.4 L531.4,687.4 M529.5,682.0 L531.4,682.0 M529.5,676.7 L531.4,676.7 M536.6,719.5 L536.6,720.8 M541.8,719.5 L541.8,720.8 M546.9,719.5 L546.9,720.8 M552.1,719.5 L552.1,720.8 M557.3,719.5 L557.3,720.8 M562.4,719.5 L562.4,720.8 M567.6,719.5 L567.6,720.8 M572.8,719.5 L572.8,720.8 M578.0,719.5 L578.0,720.8 M583.1,719.5 L583.1,720.8 M588.3,719.5 L588.3,720.8 M593.5,719.5 L593.5,720.8 M598.7,719.5 L598.7,720.8 M603.9,719.5 L603.9,720.8 M609.0,719.5 L609.0,720.8 M614.2,719.5 L614.2,720.8 M619.4,719.5 L619.4,720.8 M624.5,719.5 L624.5,720.8 M629.7,719.5 L629.7,720.8 M634.9,719.5 L634.9,720.8 " stroke="#000" stroke-width="0.95" fill="none"/>
<text x="528.8" y="679.5" font-size="4.8" text-anchor="end" font-weight="bold" fill="#111">8</text>
<text x="528.8" y="698.7" font-size="4.8" text-anchor="end" font-weight="bold" fill="#111">4</text>
<text x="528.8" y="709.6" font-size="4.8" text-anchor="end" font-weight="bold" fill="#111">2</text>
<text x="528.8" y="715.1" font-size="4.8" text-anchor="end" font-weight="bold" fill="#111">1</text>
<text x="528.8" y="721.2" font-size="4.8" text-anchor="end" font-weight="bold" fill="#111">0</text>
<text transform="translate(522.6,706.9) rotate(-90)" font-size="4.6" font-weight="bold" text-anchor="middle" textLength="12.6" lengthAdjust="spacingAndGlyphs" fill="#111">V/cm</text>
<text transform="translate(544.2,724.1) rotate(-45)" font-size="4.9" font-weight="bold" text-anchor="end" fill="#111">1.25</text>
<text transform="translate(558,724.1) rotate(-45)" font-size="4.9" font-weight="bold" text-anchor="end" fill="#111">2.5</text>
<path d="M581.6,722.1 L583.6,717.3 M583.4,722.1 L585.4,717.3" stroke="#000" stroke-width="0.9" fill="none"/>
<text x="608.7" y="726.5" font-size="5.3" textLength="25.5" lengthAdjust="spacingAndGlyphs" font-weight="bold" fill="#111">time (sec)</text>
<rect x="531.9" y="763.6" width="4.2" height="12.1" fill="#808285"/>
<rect x="556.7" y="763.6" width="4.3" height="12.1" fill="#808285"/>
<path d="M531.4,732.9 L531.4,775.7 L634.9,775.7" stroke="#000" stroke-width="1.3" fill="none" stroke-linejoin="miter"/>
<path d="M529.5,775.7 L531.4,775.7 M529.5,770.4 L531.4,770.4 M529.5,765.0 L531.4,765.0 M529.5,759.7 L531.4,759.7 M529.5,754.3 L531.4,754.3 M529.5,749.0 L531.4,749.0 M529.5,743.6 L531.4,743.6 M529.5,738.2 L531.4,738.2 M529.5,732.9 L531.4,732.9 M536.6,775.7 L536.6,777.0 M541.8,775.7 L541.8,777.0 M546.9,775.7 L546.9,777.0 M552.1,775.7 L552.1,777.0 M557.3,775.7 L557.3,777.0 M562.4,775.7 L562.4,777.0 M567.6,775.7 L567.6,777.0 M572.8,775.7 L572.8,777.0 M578.0,775.7 L578.0,777.0 M583.1,775.7 L583.1,777.0 M588.3,775.7 L588.3,777.0 M593.5,775.7 L593.5,777.0 M598.7,775.7 L598.7,777.0 M603.9,775.7 L603.9,777.0 M609.0,775.7 L609.0,777.0 M614.2,775.7 L614.2,777.0 M619.4,775.7 L619.4,777.0 M624.5,775.7 L624.5,777.0 M629.7,775.7 L629.7,777.0 M634.9,775.7 L634.9,777.0 " stroke="#000" stroke-width="0.95" fill="none"/>
<text x="528.8" y="735.7" font-size="4.8" text-anchor="end" font-weight="bold" fill="#111">8</text>
<text x="528.8" y="754.9" font-size="4.8" text-anchor="end" font-weight="bold" fill="#111">4</text>
<text x="528.8" y="765.8" font-size="4.8" text-anchor="end" font-weight="bold" fill="#111">2</text>
<text x="528.8" y="771.3" font-size="4.8" text-anchor="end" font-weight="bold" fill="#111">1</text>
<text x="528.8" y="777.4" font-size="4.8" text-anchor="end" font-weight="bold" fill="#111">0</text>
<text transform="translate(522.6,763.1) rotate(-90)" font-size="4.6" font-weight="bold" text-anchor="middle" textLength="12.6" lengthAdjust="spacingAndGlyphs" fill="#111">V/cm</text>
<text transform="translate(544.2,780.3) rotate(-45)" font-size="4.9" font-weight="bold" text-anchor="end" fill="#111">1.25</text>
<text transform="translate(558,780.3) rotate(-45)" font-size="4.9" font-weight="bold" text-anchor="end" fill="#111">2.5</text>
<path d="M581.6,778.3 L583.6,773.5 M583.4,778.3 L585.4,773.5" stroke="#000" stroke-width="0.9" fill="none"/>
<text x="608.7" y="782.7" font-size="5.3" textLength="25.5" lengthAdjust="spacingAndGlyphs" font-weight="bold" fill="#111">time (sec)</text>
<rect x="531.9" y="811.5" width="4.6" height="23.5" fill="#808285"/>
<rect x="557.1" y="811.5" width="4.3" height="23.5" fill="#808285"/>
<path d="M531.4,792.2 L531.4,835.0 L634.9,835.0" stroke="#000" stroke-width="1.3" fill="none" stroke-linejoin="miter"/>
<path d="M529.5,835.0 L531.4,835.0 M529.5,829.6 L531.4,829.6 M529.5,824.3 L531.4,824.3 M529.5,819.0 L531.4,819.0 M529.5,813.6 L531.4,813.6 M529.5,808.2 L531.4,808.2 M529.5,802.9 L531.4,802.9 M529.5,797.5 L531.4,797.5 M529.5,792.2 L531.4,792.2 M536.6,835.0 L536.6,836.3 M541.8,835.0 L541.8,836.3 M546.9,835.0 L546.9,836.3 M552.1,835.0 L552.1,836.3 M557.3,835.0 L557.3,836.3 M562.4,835.0 L562.4,836.3 M567.6,835.0 L567.6,836.3 M572.8,835.0 L572.8,836.3 M578.0,835.0 L578.0,836.3 M583.1,835.0 L583.1,836.3 M588.3,835.0 L588.3,836.3 M593.5,835.0 L593.5,836.3 M598.7,835.0 L598.7,836.3 M603.9,835.0 L603.9,836.3 M609.0,835.0 L609.0,836.3 M614.2,835.0 L614.2,836.3 M619.4,835.0 L619.4,836.3 M624.5,835.0 L624.5,836.3 M629.7,835.0 L629.7,836.3 M634.9,835.0 L634.9,836.3 " stroke="#000" stroke-width="0.95" fill="none"/>
<text x="528.8" y="795.0" font-size="4.8" text-anchor="end" font-weight="bold" fill="#111">8</text>
<text x="528.8" y="814.2" font-size="4.8" text-anchor="end" font-weight="bold" fill="#111">4</text>
<text x="528.8" y="825.1" font-size="4.8" text-anchor="end" font-weight="bold" fill="#111">2</text>
<text x="528.8" y="830.6" font-size="4.8" text-anchor="end" font-weight="bold" fill="#111">1</text>
<text x="528.8" y="836.7" font-size="4.8" text-anchor="end" font-weight="bold" fill="#111">0</text>
<text transform="translate(522.6,822.4) rotate(-90)" font-size="4.6" font-weight="bold" text-anchor="middle" textLength="12.6" lengthAdjust="spacingAndGlyphs" fill="#111">V/cm</text>
<text transform="translate(544.2,839.6) rotate(-45)" font-size="4.9" font-weight="bold" text-anchor="end" fill="#111">1.25</text>
<text transform="translate(558,839.6) rotate(-45)" font-size="4.9" font-weight="bold" text-anchor="end" fill="#111">2.5</text>
<path d="M581.6,837.6 L583.6,832.8 M583.4,837.6 L585.4,832.8" stroke="#000" stroke-width="0.9" fill="none"/>
<text x="608.7" y="842.0" font-size="5.3" textLength="25.5" lengthAdjust="spacingAndGlyphs" font-weight="bold" fill="#111">time (sec)</text>
<rect x="531.9" y="867.5" width="10.9" height="23.5" fill="#808285"/>
<rect x="556.5" y="867.5" width="10.7" height="23.5" fill="#808285"/>
<path d="M531.4,848.2 L531.4,891.0 L634.9,891.0" stroke="#000" stroke-width="1.3" fill="none" stroke-linejoin="miter"/>
<path d="M529.5,891.0 L531.4,891.0 M529.5,885.6 L531.4,885.6 M529.5,880.3 L531.4,880.3 M529.5,875.0 L531.4,875.0 M529.5,869.6 L531.4,869.6 M529.5,864.2 L531.4,864.2 M529.5,858.9 L531.4,858.9 M529.5,853.5 L531.4,853.5 M529.5,848.2 L531.4,848.2 M536.6,891.0 L536.6,892.3 M541.8,891.0 L541.8,892.3 M546.9,891.0 L546.9,892.3 M552.1,891.0 L552.1,892.3 M557.3,891.0 L557.3,892.3 M562.4,891.0 L562.4,892.3 M567.6,891.0 L567.6,892.3 M572.8,891.0 L572.8,892.3 M578.0,891.0 L578.0,892.3 M583.1,891.0 L583.1,892.3 M588.3,891.0 L588.3,892.3 M593.5,891.0 L593.5,892.3 M598.7,891.0 L598.7,892.3 M603.9,891.0 L603.9,892.3 M609.0,891.0 L609.0,892.3 M614.2,891.0 L614.2,892.3 M619.4,891.0 L619.4,892.3 M624.5,891.0 L624.5,892.3 M629.7,891.0 L629.7,892.3 M634.9,891.0 L634.9,892.3 " stroke="#000" stroke-width="0.95" fill="none"/>
<text x="528.8" y="851.0" font-size="4.8" text-anchor="end" font-weight="bold" fill="#111">8</text>
<text x="528.8" y="870.2" font-size="4.8" text-anchor="end" font-weight="bold" fill="#111">4</text>
<text x="528.8" y="881.1" font-size="4.8" text-anchor="end" font-weight="bold" fill="#111">2</text>
<text x="528.8" y="886.6" font-size="4.8" text-anchor="end" font-weight="bold" fill="#111">1</text>
<text x="528.8" y="892.7" font-size="4.8" text-anchor="end" font-weight="bold" fill="#111">0</text>
<text transform="translate(522.6,878.4) rotate(-90)" font-size="4.6" font-weight="bold" text-anchor="middle" textLength="12.6" lengthAdjust="spacingAndGlyphs" fill="#111">V/cm</text>
<text transform="translate(544.2,895.6) rotate(-45)" font-size="4.9" font-weight="bold" text-anchor="end" fill="#111">1.25</text>
<text transform="translate(558,895.6) rotate(-45)" font-size="4.9" font-weight="bold" text-anchor="end" fill="#111">2.5</text>
<path d="M581.6,893.6 L583.6,888.8 M583.4,893.6 L585.4,888.8" stroke="#000" stroke-width="0.9" fill="none"/>
<text x="608.7" y="898.0" font-size="5.3" textLength="25.5" lengthAdjust="spacingAndGlyphs" font-weight="bold" fill="#111">time (sec)</text>
<rect x="531.9" y="910.6" width="2.3" height="43.0" fill="#808285"/>
<rect x="556.0" y="910.6" width="2.2" height="43.0" fill="#808285"/>
<path d="M531.4,910.8 L531.4,953.6 L634.9,953.6" stroke="#000" stroke-width="1.3" fill="none" stroke-linejoin="miter"/>
<path d="M529.5,953.6 L531.4,953.6 M529.5,948.2 L531.4,948.2 M529.5,942.9 L531.4,942.9 M529.5,937.6 L531.4,937.6 M529.5,932.2 L531.4,932.2 M529.5,926.9 L531.4,926.9 M529.5,921.5 L531.4,921.5 M529.5,916.1 L531.4,916.1 M529.5,910.8 L531.4,910.8 M536.6,953.6 L536.6,954.9 M541.8,953.6 L541.8,954.9 M546.9,953.6 L546.9,954.9 M552.1,953.6 L552.1,954.9 M557.3,953.6 L557.3,954.9 M562.4,953.6 L562.4,954.9 M567.6,953.6 L567.6,954.9 M572.8,953.6 L572.8,954.9 M578.0,953.6 L578.0,954.9 M583.1,953.6 L583.1,954.9 M588.3,953.6 L588.3,954.9 M593.5,953.6 L593.5,954.9 M598.7,953.6 L598.7,954.9 M603.9,953.6 L603.9,954.9 M609.0,953.6 L609.0,954.9 M614.2,953.6 L614.2,954.9 M619.4,953.6 L619.4,954.9 M624.5,953.6 L624.5,954.9 M629.7,953.6 L629.7,954.9 M634.9,953.6 L634.9,954.9 " stroke="#000" stroke-width="0.95" fill="none"/>
<text x="528.8" y="913.6" font-size="4.8" text-anchor="end" font-weight="bold" fill="#111">8</text>
<text x="528.8" y="932.8" font-size="4.8" text-anchor="end" font-weight="bold" fill="#111">4</text>
<text x="528.8" y="943.7" font-size="4.8" text-anchor="end" font-weight="bold" fill="#111">2</text>
<text x="528.8" y="949.2" font-size="4.8" text-anchor="end" font-weight="bold" fill="#111">1</text>
<text x="528.8" y="955.3" font-size="4.8" text-anchor="end" font-weight="bold" fill="#111">0</text>
<text transform="translate(522.6,941.0) rotate(-90)" font-size="4.6" font-weight="bold" text-anchor="middle" textLength="12.6" lengthAdjust="spacingAndGlyphs" fill="#111">V/cm</text>
<text transform="translate(544.2,958.2) rotate(-45)" font-size="4.9" font-weight="bold" text-anchor="end" fill="#111">1.25</text>
<text transform="translate(558,958.2) rotate(-45)" font-size="4.9" font-weight="bold" text-anchor="end" fill="#111">2.5</text>
<path d="M581.6,956.2 L583.6,951.4 M583.4,956.2 L585.4,951.4" stroke="#000" stroke-width="0.9" fill="none"/>
<text x="608.7" y="960.6" font-size="5.3" textLength="25.5" lengthAdjust="spacingAndGlyphs" font-weight="bold" fill="#111">time (sec)</text>
<rect x="531.9" y="996.7" width="4.6" height="12.1" fill="#808285"/>
<rect x="543.6" y="996.7" width="4.5" height="12.1" fill="#808285"/>
<rect x="557.1" y="996.7" width="4.5" height="12.1" fill="#808285"/>
<rect x="570.2" y="996.7" width="4.5" height="12.1" fill="#808285"/>
<path d="M531.4,966.0 L531.4,1008.8 L634.9,1008.8" stroke="#000" stroke-width="1.3" fill="none" stroke-linejoin="miter"/>
<path d="M529.5,1008.8 L531.4,1008.8 M529.5,1003.4 L531.4,1003.4 M529.5,998.1 L531.4,998.1 M529.5,992.8 L531.4,992.8 M529.5,987.4 L531.4,987.4 M529.5,982.0 L531.4,982.0 M529.5,976.7 L531.4,976.7 M529.5,971.3 L531.4,971.3 M529.5,966.0 L531.4,966.0 M536.6,1008.8 L536.6,1010.1 M541.8,1008.8 L541.8,1010.1 M546.9,1008.8 L546.9,1010.1 M552.1,1008.8 L552.1,1010.1 M557.3,1008.8 L557.3,1010.1 M562.4,1008.8 L562.4,1010.1 M567.6,1008.8 L567.6,1010.1 M572.8,1008.8 L572.8,1010.1 M578.0,1008.8 L578.0,1010.1 M583.1,1008.8 L583.1,1010.1 M588.3,1008.8 L588.3,1010.1 M593.5,1008.8 L593.5,1010.1 M598.7,1008.8 L598.7,1010.1 M603.9,1008.8 L603.9,1010.1 M609.0,1008.8 L609.0,1010.1 M614.2,1008.8 L614.2,1010.1 M619.4,1008.8 L619.4,1010.1 M624.5,1008.8 L624.5,1010.1 M629.7,1008.8 L629.7,1010.1 M634.9,1008.8 L634.9,1010.1 " stroke="#000" stroke-width="0.95" fill="none"/>
<text x="528.8" y="968.8" font-size="4.8" text-anchor="end" font-weight="bold" fill="#111">8</text>
<text x="528.8" y="988.0" font-size="4.8" text-anchor="end" font-weight="bold" fill="#111">4</text>
<text x="528.8" y="998.9" font-size="4.8" text-anchor="end" font-weight="bold" fill="#111">2</text>
<text x="528.8" y="1004.4" font-size="4.8" text-anchor="end" font-weight="bold" fill="#111">1</text>
<text x="528.8" y="1010.5" font-size="4.8" text-anchor="end" font-weight="bold" fill="#111">0</text>
<text transform="translate(522.6,996.2) rotate(-90)" font-size="4.6" font-weight="bold" text-anchor="middle" textLength="12.6" lengthAdjust="spacingAndGlyphs" fill="#111">V/cm</text>
<text transform="translate(544.2,1013.4) rotate(-45)" font-size="4.9" font-weight="bold" text-anchor="end" fill="#111">1.25</text>
<text transform="translate(558,1013.4) rotate(-45)" font-size="4.9" font-weight="bold" text-anchor="end" fill="#111">2.5</text>
<path d="M581.6,1011.4 L583.6,1006.6 M583.4,1011.4 L585.4,1006.6" stroke="#000" stroke-width="0.9" fill="none"/>
<text x="608.7" y="1015.8" font-size="5.3" textLength="25.5" lengthAdjust="spacingAndGlyphs" font-weight="bold" fill="#111">time (sec)</text>
<rect x="531.9" y="1053.3" width="4.6" height="12.1" fill="#808285"/>
<rect x="557.1" y="1053.3" width="4.5" height="12.1" fill="#808285"/>
<rect x="583.2" y="1053.3" width="4.5" height="12.1" fill="#808285"/>
<rect x="610.0" y="1053.3" width="4.5" height="12.1" fill="#808285"/>
<path d="M531.4,1022.6 L531.4,1065.4 L634.9,1065.4" stroke="#000" stroke-width="1.3" fill="none" stroke-linejoin="miter"/>
<path d="M529.5,1065.4 L531.4,1065.4 M529.5,1060.1 L531.4,1060.1 M529.5,1054.7 L531.4,1054.7 M529.5,1049.4 L531.4,1049.4 M529.5,1044.0 L531.4,1044.0 M529.5,1038.7 L531.4,1038.7 M529.5,1033.3 L531.4,1033.3 M529.5,1028.0 L531.4,1028.0 M529.5,1022.6 L531.4,1022.6 M536.6,1065.4 L536.6,1066.7 M541.8,1065.4 L541.8,1066.7 M546.9,1065.4 L546.9,1066.7 M552.1,1065.4 L552.1,1066.7 M557.3,1065.4 L557.3,1066.7 M562.4,1065.4 L562.4,1066.7 M567.6,1065.4 L567.6,1066.7 M572.8,1065.4 L572.8,1066.7 M578.0,1065.4 L578.0,1066.7 M583.1,1065.4 L583.1,1066.7 M588.3,1065.4 L588.3,1066.7 M593.5,1065.4 L593.5,1066.7 M598.7,1065.4 L598.7,1066.7 M603.9,1065.4 L603.9,1066.7 M609.0,1065.4 L609.0,1066.7 M614.2,1065.4 L614.2,1066.7 M619.4,1065.4 L619.4,1066.7 M624.5,1065.4 L624.5,1066.7 M629.7,1065.4 L629.7,1066.7 M634.9,1065.4 L634.9,1066.7 " stroke="#000" stroke-width="0.95" fill="none"/>
<text x="528.8" y="1025.4" font-size="4.8" text-anchor="end" font-weight="bold" fill="#111">8</text>
<text x="528.8" y="1044.6" font-size="4.8" text-anchor="end" font-weight="bold" fill="#111">4</text>
<text x="528.8" y="1055.5" font-size="4.8" text-anchor="end" font-weight="bold" fill="#111">2</text>
<text x="528.8" y="1061.0" font-size="4.8" text-anchor="end" font-weight="bold" fill="#111">1</text>
<text x="528.8" y="1067.1" font-size="4.8" text-anchor="end" font-weight="bold" fill="#111">0</text>
<text transform="translate(522.6,1052.8) rotate(-90)" font-size="4.6" font-weight="bold" text-anchor="middle" textLength="12.6" lengthAdjust="spacingAndGlyphs" fill="#111">V/cm</text>
<text transform="translate(544.2,1070.0) rotate(-45)" font-size="4.9" font-weight="bold" text-anchor="end" fill="#111">1.25</text>
<text transform="translate(558,1070.0) rotate(-45)" font-size="4.9" font-weight="bold" text-anchor="end" fill="#111">2.5</text>
<path d="M581.6,1068.0 L583.6,1063.2 M583.4,1068.0 L585.4,1063.2" stroke="#000" stroke-width="0.9" fill="none"/>
<text x="608.7" y="1072.4" font-size="5.3" textLength="25.5" lengthAdjust="spacingAndGlyphs" font-weight="bold" fill="#111">time (sec)</text>
<rect x="531.9" y="1108.5" width="10.7" height="12.1" fill="#808285"/>
<rect x="582.8" y="1108.5" width="10.7" height="12.1" fill="#808285"/>
<path d="M531.4,1077.8 L531.4,1120.6 L634.9,1120.6" stroke="#000" stroke-width="1.3" fill="none" stroke-linejoin="miter"/>
<path d="M529.5,1120.6 L531.4,1120.6 M529.5,1115.2 L531.4,1115.2 M529.5,1109.9 L531.4,1109.9 M529.5,1104.5 L531.4,1104.5 M529.5,1099.2 L531.4,1099.2 M529.5,1093.8 L531.4,1093.8 M529.5,1088.5 L531.4,1088.5 M529.5,1083.1 L531.4,1083.1 M529.5,1077.8 L531.4,1077.8 M536.6,1120.6 L536.6,1121.9 M541.8,1120.6 L541.8,1121.9 M546.9,1120.6 L546.9,1121.9 M552.1,1120.6 L552.1,1121.9 M557.3,1120.6 L557.3,1121.9 M562.4,1120.6 L562.4,1121.9 M567.6,1120.6 L567.6,1121.9 M572.8,1120.6 L572.8,1121.9 M578.0,1120.6 L578.0,1121.9 M583.1,1120.6 L583.1,1121.9 M588.3,1120.6 L588.3,1121.9 M593.5,1120.6 L593.5,1121.9 M598.7,1120.6 L598.7,1121.9 M603.9,1120.6 L603.9,1121.9 M609.0,1120.6 L609.0,1121.9 M614.2,1120.6 L614.2,1121.9 M619.4,1120.6 L619.4,1121.9 M624.5,1120.6 L624.5,1121.9 M629.7,1120.6 L629.7,1121.9 M634.9,1120.6 L634.9,1121.9 " stroke="#000" stroke-width="0.95" fill="none"/>
<text x="528.8" y="1080.6" font-size="4.8" text-anchor="end" font-weight="bold" fill="#111">8</text>
<text x="528.8" y="1099.8" font-size="4.8" text-anchor="end" font-weight="bold" fill="#111">4</text>
<text x="528.8" y="1110.7" font-size="4.8" text-anchor="end" font-weight="bold" fill="#111">2</text>
<text x="528.8" y="1116.2" font-size="4.8" text-anchor="end" font-weight="bold" fill="#111">1</text>
<text x="528.8" y="1122.3" font-size="4.8" text-anchor="end" font-weight="bold" fill="#111">0</text>
<text transform="translate(522.6,1108.0) rotate(-90)" font-size="4.6" font-weight="bold" text-anchor="middle" textLength="12.6" lengthAdjust="spacingAndGlyphs" fill="#111">V/cm</text>
<text transform="translate(544.2,1125.2) rotate(-45)" font-size="4.9" font-weight="bold" text-anchor="end" fill="#111">1.25</text>
<text transform="translate(558,1125.2) rotate(-45)" font-size="4.9" font-weight="bold" text-anchor="end" fill="#111">2.5</text>
<path d="M581.6,1123.2 L583.6,1118.4 M583.4,1123.2 L585.4,1118.4" stroke="#000" stroke-width="0.9" fill="none"/>
<text x="608.7" y="1127.6" font-size="5.3" textLength="25.5" lengthAdjust="spacingAndGlyphs" font-weight="bold" fill="#111">time (sec)</text>
</g>
<!-- Section F -->
<g id="secF">
<path d="M90.3,1190.5 L90.3,1337.0 L278.2,1337.0" stroke="#555" stroke-width="0.5" fill="none"/>
<path d="M90.3,1190.5 L91.6,1190.5 M90.3,1208.8 L91.6,1208.8 M90.3,1227.1 L91.6,1227.1 M90.3,1245.5 L91.6,1245.5 M90.3,1263.8 L91.6,1263.8 M90.3,1282.1 L91.6,1282.1 M90.3,1300.4 L91.6,1300.4 M90.3,1318.7 L91.6,1318.7 M90.3,1337.0 L91.6,1337.0 M90.3,1337.0 L90.3,1335.7 M123.6,1337.0 L123.6,1335.7 M157.6,1337.0 L157.6,1335.7 M192.0,1337.0 L192.0,1335.7 M226.1,1337.0 L226.1,1335.7 M260.1,1337.0 L260.1,1335.7 " stroke="#555" stroke-width="0.5" fill="none"/>
<text x="88.5" y="1192.1" font-size="4.7" text-anchor="end" fill="#222">6</text>
<text x="88.5" y="1210.4" font-size="4.7" text-anchor="end" fill="#222">4</text>
<text x="88.5" y="1228.7" font-size="4.7" text-anchor="end" fill="#222">2</text>
<text x="88.5" y="1247.1" font-size="4.7" text-anchor="end" fill="#222">0</text>
<text x="88.5" y="1265.4" font-size="4.7" text-anchor="end" fill="#222">-2</text>
<text x="88.5" y="1283.7" font-size="4.7" text-anchor="end" fill="#222">-4</text>
<text x="88.5" y="1302.0" font-size="4.7" text-anchor="end" fill="#222">-6</text>
<text x="88.5" y="1320.3" font-size="4.7" text-anchor="end" fill="#222">-8</text>
<text x="88.5" y="1338.6" font-size="4.7" text-anchor="end" fill="#222">-10</text>
<text x="90.3" y="1343.0" font-size="4.7" text-anchor="middle" fill="#222">0.5</text>
<text x="123.6" y="1343.0" font-size="4.7" text-anchor="middle" fill="#222">1</text>
<text x="157.6" y="1343.0" font-size="4.7" text-anchor="middle" fill="#222">1.5</text>
<text x="192.0" y="1343.0" font-size="4.7" text-anchor="middle" fill="#222">2</text>
<text x="226.1" y="1343.0" font-size="4.7" text-anchor="middle" fill="#222">2.5</text>
<text x="260.1" y="1343.0" font-size="4.7" text-anchor="middle" fill="#222">3</text>
<text transform="translate(77.4,1263.8) rotate(-90)" font-size="5" text-anchor="middle" fill="#222">Voltage (V)</text>
<text x="183.2" y="1349.6" font-size="5" text-anchor="middle" fill="#222">Time (s)</text>
<polyline points="90.3,1245.3 123.6,1245.3 123.6,1324.0 128.4,1321.8 139.5,1319.2 167.2,1318.5 167.2,1194.2 170.9,1197.9 178.3,1201.6 193.1,1204.6 215.3,1205.7 251.6,1206.4 251.6,1245.3 278.2,1245.3" fill="none" stroke="#1874BE" stroke-width="3.9" stroke-linejoin="round" stroke-linecap="round"/>
<polyline points="90.3,1246.0 123.6,1245.3 123.6,1287.8 134.0,1285.9 167.2,1285.2 167.2,1216.8 178.3,1219.4 200.5,1222.3 226.4,1223.8 251.6,1224.2 251.6,1247.1 263.4,1246.4 278.2,1245.6" fill="none" stroke="#D9531E" stroke-width="3.9" stroke-linejoin="round" stroke-linecap="round"/>
<path d="M330.3,1190.5 L330.3,1337.0 L520.0,1337.0" stroke="#555" stroke-width="0.5" fill="none"/>
<path d="M330.3,1190.5 L331.6,1190.5 M330.3,1208.8 L331.6,1208.8 M330.3,1227.1 L331.6,1227.1 M330.3,1245.5 L331.6,1245.5 M330.3,1263.8 L331.6,1263.8 M330.3,1282.1 L331.6,1282.1 M330.3,1300.4 L331.6,1300.4 M330.3,1318.7 L331.6,1318.7 M330.3,1337.0 L331.6,1337.0 M330.3,1337.0 L330.3,1335.7 M364.7,1337.0 L364.7,1335.7 M399.1,1337.0 L399.1,1335.7 M433.1,1337.0 L433.1,1335.7 M467.2,1337.0 L467.2,1335.7 M501.6,1337.0 L501.6,1335.7 " stroke="#555" stroke-width="0.5" fill="none"/>
<text x="328.5" y="1192.1" font-size="4.7" text-anchor="end" fill="#222">6</text>
<text x="328.5" y="1210.4" font-size="4.7" text-anchor="end" fill="#222">4</text>
<text x="328.5" y="1228.7" font-size="4.7" text-anchor="end" fill="#222">2</text>
<text x="328.5" y="1247.1" font-size="4.7" text-anchor="end" fill="#222">0</text>
<text x="328.5" y="1265.4" font-size="4.7" text-anchor="end" fill="#222">-2</text>
<text x="328.5" y="1283.7" font-size="4.7" text-anchor="end" fill="#222">-4</text>
<text x="328.5" y="1302.0" font-size="4.7" text-anchor="end" fill="#222">-6</text>
<text x="328.5" y="1320.3" font-size="4.7" text-anchor="end" fill="#222">-8</text>
<text x="328.5" y="1338.6" font-size="4.7" text-anchor="end" fill="#222">-10</text>
<text x="330.3" y="1343.0" font-size="4.7" text-anchor="middle" fill="#222">0.5</text>
<text x="364.7" y="1343.0" font-size="4.7" text-anchor="middle" fill="#222">1</text>
<text x="399.1" y="1343.0" font-size="4.7" text-anchor="middle" fill="#222">1.5</text>
<text x="433.1" y="1343.0" font-size="4.7" text-anchor="middle" fill="#222">2</text>
<text x="467.2" y="1343.0" font-size="4.7" text-anchor="middle" fill="#222">2.5</text>
<text x="501.6" y="1343.0" font-size="4.7" text-anchor="middle" fill="#222">3</text>
<text transform="translate(317.4,1263.8) rotate(-90)" font-size="5" text-anchor="middle" fill="#222">Voltage (V)</text>
<text x="423.2" y="1349.6" font-size="5" text-anchor="middle" fill="#222">Time (s)</text>
<polyline points="330.3,1245.3 364.7,1245.3 364.7,1328.5 368.4,1325.9 379.5,1322.2 407.2,1320.3 407.2,1197.9 410.9,1200.9 422.0,1203.8 440.5,1206.4 492.3,1207.5 492.3,1245.3 520.0,1246.0" fill="none" stroke="#1874BE" stroke-width="3.9" stroke-linejoin="round" stroke-linecap="round"/>
<polyline points="330.3,1248.2 364.7,1247.1 364.7,1294.1 372.1,1292.6 407.2,1292.6 407.2,1218.6 418.3,1219.4 447.9,1220.9 492.3,1221.6 492.3,1249.0 507.1,1248.6 520.0,1247.9" fill="none" stroke="#D9531E" stroke-width="3.9" stroke-linejoin="round" stroke-linecap="round"/>
<rect x="526" y="1191.8" width="13.4" height="3.6" fill="#1874BE"/>
<rect x="526" y="1208.2" width="13.4" height="3.6" fill="#D9531E"/>
<text x="544.6" y="1199.2" font-size="14.8" textLength="18.8" lengthAdjust="spacingAndGlyphs" fill="#111">Va</text>
<text x="544.6" y="1216.4" font-size="14.8" textLength="18.8" lengthAdjust="spacingAndGlyphs" fill="#111">Vb</text>
</g>
</svg>
</body></html>
